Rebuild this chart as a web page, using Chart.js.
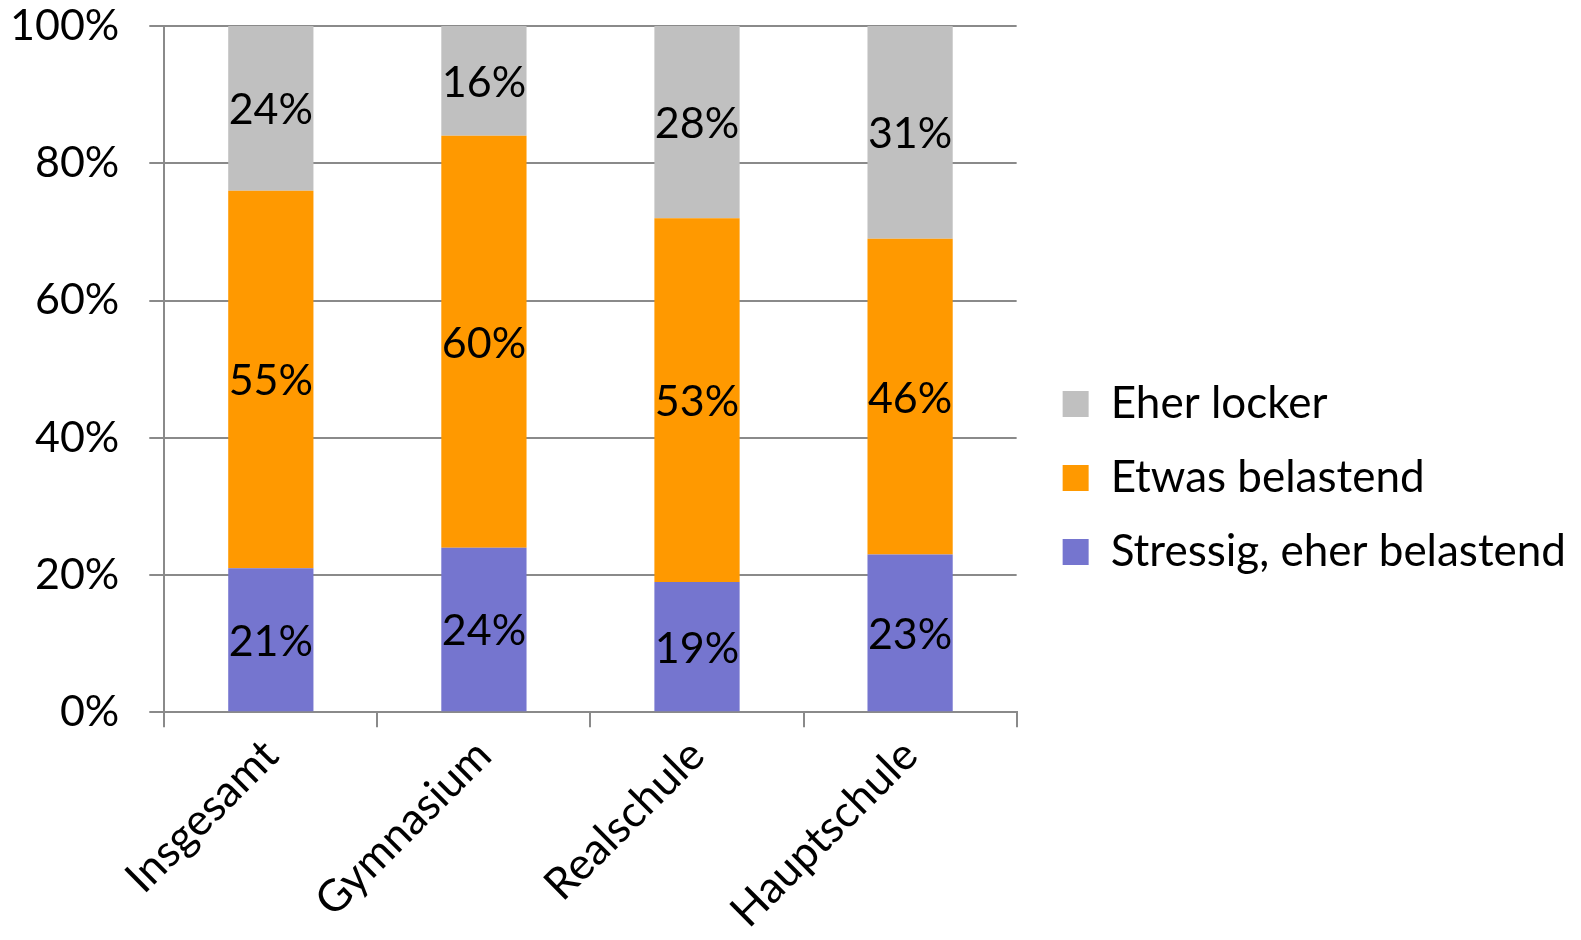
<!DOCTYPE html>
<html>
<head>
<meta charset="utf-8">
<script src="https://cdn.jsdelivr.net/npm/chart.js@4/dist/chart.umd.min.js"></script>
<style>
  body { margin: 0; background: #fff; }
</style>
</head>
<body>
<canvas id="myChart" width="1581" height="940"></canvas>
<script>
'use strict';

// chart data

let schoolTypes = ['Insgesamt', 'Gymnasium', 'Realschule', 'Hauptschule'];
let stressig = [21, 24, 19, 23];
let etwasBelastend = [55, 60, 53, 46];
let eherLocker = [24, 16, 28, 31];
let yTicks = [0, 20, 40, 60, 80, 100];

let fontFamily = 'Lato, "Noto Sans", sans-serif';
let fontSize = 43;
let gridColor = '#8a8a8a';

// draws the percent value in the middle of every bar segment
let segmentLabels = {
  id: 'segmentLabels',
  afterDatasetsDraw(chart) {
    let ctx = chart.ctx;
    ctx.save();
    ctx.font = fontSize + 'px ' + fontFamily;
    ctx.fillStyle = '#000';
    ctx.textAlign = 'center';
    ctx.textBaseline = 'middle';
    chart.data.datasets.forEach(function (dataset, i) {
      let meta = chart.getDatasetMeta(i);
      meta.data.forEach(function (bar, j) {
        let center = bar.getCenterPoint();
        ctx.fillText(dataset.data[j] + '%', center.x, center.y + 2);
      });
    });
    ctx.restore();
  }
};

// push the legend a bit away from the plot, like the original
let legendGap = {
  id: 'legendGap',
  afterLayout(chart) {
    if (chart.legend) {
      chart.legend.left += 16;
      chart.legend.right += 16;
    }
  }
};

function renderChart() {
  const ctx = document.getElementById('myChart').getContext('2d');

  const myChart = new Chart(ctx, {
    type: 'bar',
    data: {
      labels: schoolTypes,
      datasets: [
        { label: 'Stressig, eher belastend', data: stressig, backgroundColor: '#7575cf' },
        { label: 'Etwas belastend', data: etwasBelastend, backgroundColor: '#ff9900' },
        { label: 'Eher locker', data: eherLocker, backgroundColor: '#c0c0c0' },
      ],
    },
    options: {
      responsive: false,
      animation: false,
      borderWidth: 0,
      categoryPercentage: 1,
      barPercentage: 0.4,
      layout: { padding: { left: 10, top: 16, right: 21, bottom: 0 } },
      plugins: {
        tooltip: { enabled: false },
        legend: {
          position: 'right',
          reverse: true,
          maxWidth: 700,
          labels: {
            font: { family: fontFamily, size: 44 },
            color: '#000',
            boxWidth: 26,
            boxHeight: 26,
            padding: 30,
          },
        },
      },
      scales: {
        x: {
          stacked: true,
          grid: {
            drawOnChartArea: false,
            drawTicks: true,
            tickLength: 15,
            color: gridColor,
            lineWidth: 2,
          },
          border: { color: gridColor, width: 2 },
          ticks: {
            color: '#000',
            font: { family: fontFamily, size: 44 },
            minRotation: 45,
            maxRotation: 45,
            padding: 2,
          },
          afterFit(axis) {
            axis.paddingLeft = 0;
            axis.paddingRight = 0;
          },
        },
        y: {
          stacked: true,
          min: 0,
          max: 100,
          afterBuildTicks(axis) {
            axis.ticks = yTicks.map(function (v) { return { value: v }; });
          },
          grid: {
            color: gridColor,
            lineWidth: 2,
            tickLength: 15,
          },
          border: { color: gridColor, width: 2 },
          ticks: {
            color: '#000',
            font: { family: fontFamily, size: fontSize },
            padding: 30,
            callback: function (value) { return value + '%'; },
          },
          afterFit(axis) {
            // only keep the gap between labels and ticks, not on both sides
            axis.width -= 30;
            axis.paddingTop = 26;
          },
        },
      },
    },
    plugins: [segmentLabels, legendGap],
  });

  console.log(myChart.chartArea);
}

renderChart();
</script>
</body>
</html>
